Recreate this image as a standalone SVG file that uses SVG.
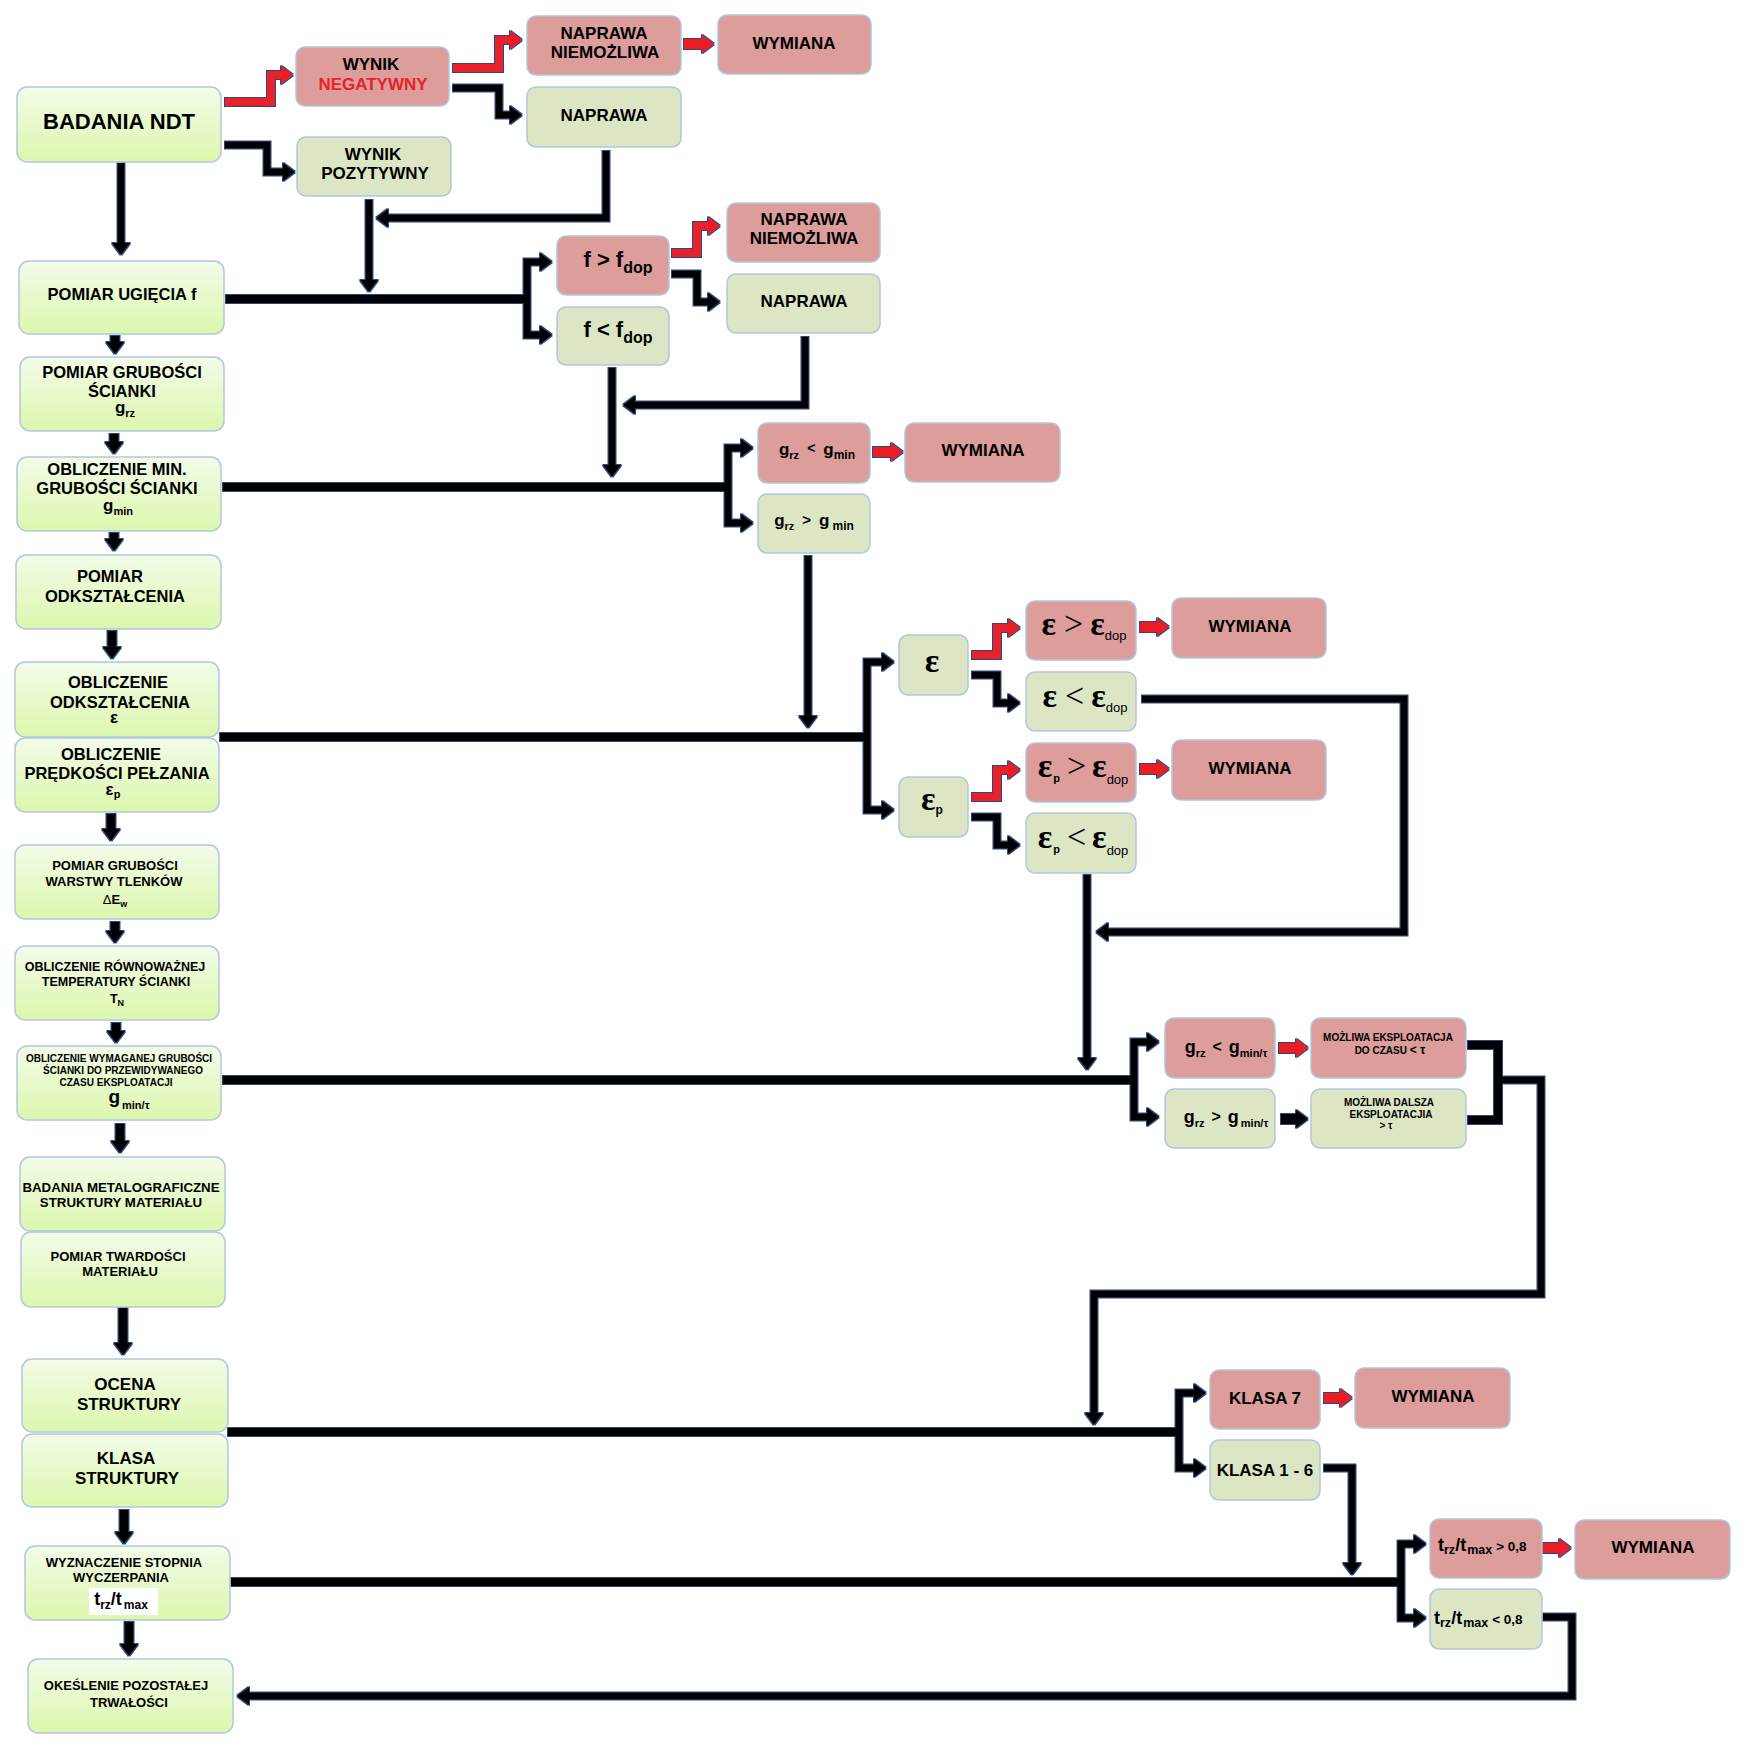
<svg xmlns="http://www.w3.org/2000/svg" width="1752" height="1757" viewBox="0 0 1752 1757">
<defs>
<linearGradient id="gG" x1="0" y1="0" x2="0" y2="1">
<stop offset="0" stop-color="#f3fce9"/>
<stop offset="1" stop-color="#dcf7ad"/>
</linearGradient>
<filter id="ol" filterUnits="userSpaceOnUse" x="0" y="0" width="1752" height="1757">
<feMorphology in="SourceAlpha" operator="dilate" radius="1" result="d"/>
<feFlood flood-color="#2c4a7a" result="c"/>
<feComposite in="c" in2="d" operator="in" result="o"/>
<feMerge><feMergeNode in="o"/><feMergeNode in="SourceGraphic"/></feMerge>
</filter>
<marker id="ah" markerUnits="userSpaceOnUse" markerWidth="12" markerHeight="18" refX="1" refY="9" orient="auto-start-reverse">
<path d="M0,0 L12,9 L0,18 Z" fill="#000"/>
</marker>
<marker id="ahr" markerUnits="userSpaceOnUse" markerWidth="12" markerHeight="18" refX="1" refY="9" orient="auto-start-reverse">
<path d="M0,0 L12,9 L0,18 Z" fill="#ec1c24"/>
</marker>
</defs>
<style>
.n{fill:url(#gG);stroke:#b3c6de;stroke-width:1.5}
.g{fill:#dce6c4;stroke:#b3c6de;stroke-width:1.5}
.r{fill:#dc9d9b;stroke:#b3c6de;stroke-width:1.5}
text{font-family:"Liberation Sans",Arial,sans-serif;font-weight:bold;fill:#000;text-anchor:middle}
.s22{font-size:22px}
.s17{font-size:17px}
.s16{font-size:16.5px}
.s13{font-size:13px}
.s12{font-size:12.5px}
.s10{font-size:10px}
.st{text-anchor:start}
.ser{font-family:"Liberation Serif","DejaVu Serif",serif;font-weight:normal}
.eb{font-weight:bold}
.sub{font-family:"Liberation Sans",Arial,sans-serif;font-weight:normal;font-size:13px}
.subb{font-family:"Liberation Sans",Arial,sans-serif;font-weight:bold;font-size:12px}
.reg{font-weight:normal}
.l{fill:none;stroke:#000;stroke-width:8}
.k{fill:none;stroke:#000;stroke-width:7;marker-end:url(#ah)}
.kb{fill:none;stroke:#000;stroke-width:7;marker-start:url(#ah);marker-end:url(#ah)}
.kd{fill:none;stroke:#000;stroke-width:9;marker-end:url(#ah)}
.kr{fill:none;stroke:#e8232b;stroke-width:8;marker-end:url(#ahr)}
.rb{fill:none;stroke:#ec1c24;stroke-width:10;marker-end:url(#ahr)}
.kk{fill:none;stroke:#000;stroke-width:10;marker-end:url(#ah)}
</style>
<rect width="1752" height="1757" fill="#fff"/>

<g id="connectors" filter="url(#ol)">
<path class="kr" d="M225,102 H271 V75 H282"/>
<path class="k" d="M225,145 H267 V172 H284"/>
<path class="kr" d="M453,68 H499 V40 H511"/>
<path class="k" d="M453,88 H499 V115 H511"/>
<path class="rb" d="M684,44 H703"/>
<path class="k" d="M606,151 V218 H387"/>
<path class="k" d="M369,200 V281"/>
<path class="k" d="M121,163 V244"/>
<path class="l" d="M226,299 H527"/>
<path class="kb" d="M541,262 H527 V335 H541"/>
<path class="kr" d="M672,253 H697 V226 H709"/>
<path class="k" d="M672,274 H697 V302 H709"/>
<path class="k" d="M805,337 V405 H634"/>
<path class="k" d="M612,368 V466"/>
<path class="l" d="M223,487 H728"/>
<path class="kb" d="M742,448 H728 V523 H742"/>
<path class="rb" d="M873,452 H892"/>
<path class="k" d="M808,556 V717"/>
<path class="l" d="M220,737 H867"/>
<path class="kb" d="M883,662 H867 V810 H883"/>
<path class="kr" d="M972,655 H997 V628 H1009"/>
<path class="k" d="M972,675 H997 V703 H1009"/>
<path class="rb" d="M1140,627 H1158"/>
<path class="kr" d="M972,797 H997 V770 H1009"/>
<path class="k" d="M972,817 H997 V845 H1009"/>
<path class="rb" d="M1140,769 H1158"/>
<path class="k" d="M1142,699 H1404 V932 H1107"/>
<path class="k" d="M1087,875 V1059"/>
<path class="l" d="M223,1080 H1134"/>
<path class="kb" d="M1148,1042 H1134 V1117 H1148"/>
<path class="rb" d="M1279,1048 H1297"/>
<path class="kk" d="M1281,1119 H1297"/>
<path class="l" d="M1468,1045 H1498 V1120 H1468"/>
<path class="k" d="M1498,1080 H1541 V1294 H1094 V1414"/>
<path class="l" d="M228,1432 H1179"/>
<path class="kb" d="M1195,1393 H1179 V1468 H1195"/>
<path class="rb" d="M1324,1398 H1341"/>
<path class="k" d="M1324,1468 H1352 V1564"/>
<path class="l" d="M231,1582 H1401"/>
<path class="kb" d="M1415,1544 H1401 V1618 H1415"/>
<path class="rb" d="M1543,1548 H1560"/>
<path class="k" d="M1543,1617 H1572 V1696 H248"/>
<path class="kd" d="M115,336 V343"/>
<path class="kd" d="M114,434 V443"/>
<path class="kd" d="M114,533 V540"/>
<path class="kd" d="M112,631 V648"/>
<path class="kd" d="M111,814 V830"/>
<path class="kd" d="M115,922 V932"/>
<path class="kd" d="M116,1023 V1032"/>
<path class="kd" d="M120,1124 V1142"/>
<path class="kd" d="M123,1308 V1344"/>
<path class="kd" d="M124,1510 V1533"/>
<path class="kd" d="M129,1622 V1645"/>
</g>

<g id="n_ndt"><rect class="n" x="17" y="87" width="204" height="75" rx="10"/><text class="s22" x="119" y="129">BADANIA NDT</text></g>
<g id="n_neg"><rect class="r" x="296" y="47" width="153" height="59" rx="9"/><text class="s17" x="371" y="70">WYNIK</text><text class="s17" x="373" y="90" style="fill:#e8212a">NEGATYWNY</text></g>
<g id="n_poz"><rect class="g" x="297" y="137" width="154" height="59" rx="9"/><text class="s17" x="373" y="160">WYNIK</text><text class="s17" x="375" y="179">POZYTYWNY</text></g>
<g id="n_nn1"><rect class="r" x="527" y="16" width="154" height="59" rx="9"/><text class="s17" x="604" y="39">NAPRAWA</text><text class="s17" x="605" y="58">NIEMOŻLIWA</text></g>
<g id="n_wym1"><rect class="r" x="718" y="15" width="153" height="59" rx="9"/><text class="s17" x="794" y="49">WYMIANA</text></g>
<g id="n_nap1"><rect class="g" x="527" y="87" width="154" height="60" rx="9"/><text class="s17" x="604" y="121">NAPRAWA</text></g>
<g id="n_ugi"><rect class="n" x="19" y="261" width="205" height="73" rx="10"/><text class="s16" x="122" y="300">POMIAR UGIĘCIA f</text></g>
<g id="n_fgt"><rect class="r" x="557" y="236" width="112" height="59" rx="9"/><text x="618" y="267" style="font-size:22px">f &gt; f<tspan dy="6" style="font-size:16px">dop</tspan></text></g>
<g id="n_flt"><rect class="g" x="557" y="307" width="112" height="58" rx="9"/><text x="618" y="337" style="font-size:22px">f &lt; f<tspan dy="6" style="font-size:16px">dop</tspan></text></g>
<g id="n_nn2"><rect class="r" x="727" y="203" width="153" height="59" rx="9"/><text class="s17" x="804" y="225">NAPRAWA</text><text class="s17" x="804" y="244">NIEMOŻLIWA</text></g>
<g id="n_nap2"><rect class="g" x="727" y="274" width="153" height="59" rx="9"/><text class="s17" x="804" y="307">NAPRAWA</text></g>
<g id="n_grub"><rect class="n" x="20" y="357" width="204" height="74" rx="10"/><text class="s16" x="122" y="378">POMIAR GRUBOŚCI</text><text class="s16" x="122" y="397">ŚCIANKI</text><text x="125" y="413" style="font-size:17px">g<tspan dy="4" style="font-size:11px">rz</tspan></text></g>
<g id="n_min"><rect class="n" x="17" y="457" width="204" height="74" rx="10"/><text class="s16" x="117" y="475">OBLICZENIE MIN.</text><text class="s16" x="117" y="494">GRUBOŚCI ŚCIANKI</text><text x="118" y="511" style="font-size:17px">g<tspan dy="4" style="font-size:11px">min</tspan></text></g>
<g id="n_gltmin"><rect class="r" x="758" y="423" width="112" height="60" rx="9"/><text x="817" y="455" style="font-size:17px">g<tspan dy="4" style="font-size:11px">rz</tspan><tspan dy="-6" dx="8" style="font-size:14px">&lt;</tspan><tspan dy="2" dx="8">g</tspan><tspan dy="4" style="font-size:12px">min</tspan></text></g>
<g id="n_wym2"><rect class="r" x="905" y="423" width="155" height="59" rx="9"/><text class="s17" x="983" y="456">WYMIANA</text></g>
<g id="n_ggtmin"><rect class="g" x="758" y="494" width="112" height="59" rx="9"/><text x="814" y="526" style="font-size:17px">g<tspan dy="4" style="font-size:11px">rz</tspan><tspan dy="-5" dx="8" style="font-size:15px">&gt;</tspan><tspan dy="1" dx="8">g</tspan><tspan dy="4" dx="3" style="font-size:12px">min</tspan></text></g>
<g id="n_pomodk"><rect class="n" x="16" y="555" width="205" height="74" rx="10"/><text class="s16" x="110" y="582">POMIAR</text><text class="s16" x="115" y="602">ODKSZTAŁCENIA</text></g>
<g id="n_oblodk"><rect class="n" x="15" y="662" width="204" height="75" rx="10"/><text class="s16" x="118" y="688">OBLICZENIE</text><text class="s16" x="120" y="708">ODKSZTAŁCENIA</text><text x="114" y="723" style="font-size:17px">ε</text></g>
<g id="n_oblpel"><rect class="n" x="15" y="738" width="204" height="74" rx="10"/><text class="s16" x="111" y="760">OBLICZENIE</text><text class="s16" x="117" y="779">PRĘDKOŚCI PEŁZANIA</text><text x="113" y="795" style="font-size:17px">ε<tspan dy="3" style="font-size:11px">p</tspan></text></g>
<g id="n_eps"><rect class="g" x="899" y="635" width="69" height="60" rx="9"/><text class="ser eb" x="932" y="672" style="font-size:34px">ε</text></g>
<g id="n_egt"><rect class="r" x="1026" y="601" width="110" height="59" rx="9"/><text class="ser" x="1084" y="635" style="font-size:34px"><tspan class="eb">ε</tspan><tspan dx="8">&gt;</tspan><tspan dx="7" class="eb">ε</tspan><tspan dy="5" class="sub">dop</tspan></text></g>
<g id="n_wym3"><rect class="r" x="1172" y="598" width="154" height="60" rx="9"/><text class="s17" x="1250" y="632">WYMIANA</text></g>
<g id="n_elt"><rect class="g" x="1026" y="672" width="110" height="59" rx="9"/><text class="ser" x="1085" y="707" style="font-size:34px"><tspan class="eb">ε</tspan><tspan dx="8">&lt;</tspan><tspan dx="7" class="eb">ε</tspan><tspan dy="5" class="sub">dop</tspan></text></g>
<g id="n_epsp"><rect class="g" x="899" y="777" width="69" height="60" rx="9"/><text class="ser eb" x="932" y="810" style="font-size:34px">ε<tspan dy="4" class="subb">p</tspan></text></g>
<g id="n_epgt"><rect class="r" x="1026" y="743" width="110" height="59" rx="9"/><text class="ser" x="1083" y="777" style="font-size:34px"><tspan class="eb">ε</tspan><tspan dy="5" dx="1" class="subb" style="font-size:11px">p</tspan><tspan dy="-5" dx="7">&gt;</tspan><tspan dx="6" class="eb">ε</tspan><tspan dy="7" class="sub">dop</tspan></text></g>
<g id="n_wym4"><rect class="r" x="1172" y="740" width="154" height="60" rx="9"/><text class="s17" x="1250" y="774">WYMIANA</text></g>
<g id="n_eplt"><rect class="g" x="1026" y="813" width="110" height="60" rx="9"/><text class="ser" x="1083" y="848" style="font-size:34px"><tspan class="eb">ε</tspan><tspan dy="5" dx="1" class="subb" style="font-size:11px">p</tspan><tspan dy="-5" dx="7">&lt;</tspan><tspan dx="6" class="eb">ε</tspan><tspan dy="7" class="sub">dop</tspan></text></g>
<g id="n_tlenki"><rect class="n" x="15" y="845" width="204" height="74" rx="10"/><text class="s13" x="115" y="870">POMIAR GRUBOŚCI</text><text class="s13" x="114" y="886">WARSTWY TLENKÓW</text><text x="115" y="904" style="font-size:13px"><tspan class="reg">Δ</tspan>E<tspan dy="3" style="font-size:9px">w</tspan></text></g>
<g id="n_rown"><rect class="n" x="15" y="946" width="204" height="74" rx="10"/><text class="s12" x="115" y="971">OBLICZENIE RÓWNOWAŻNEJ</text><text class="s12" x="116" y="986">TEMPERATURY ŚCIANKI</text><text x="117" y="1003" style="font-size:12.5px">T<tspan dy="3" style="font-size:9px">N</tspan></text></g>
<g id="n_wymag"><rect class="n" x="17" y="1046" width="204" height="74" rx="10"/><text class="s10" x="119" y="1062">OBLICZENIE WYMAGANEJ GRUBOŚCI</text><text class="s10" x="123" y="1074">ŚCIANKI DO PRZEWIDYWANEGO</text><text class="s10" x="116" y="1086">CZASU EKSPLOATACJI</text><text x="129" y="1103" style="font-size:19px">g<tspan dy="6" dx="2" style="font-size:11px">min/τ</tspan></text></g>
<g id="n_gltt"><rect class="r" x="1165" y="1018" width="110" height="60" rx="9"/><text x="1226" y="1053" style="font-size:18px">g<tspan dy="4" style="font-size:11px">rz</tspan><tspan dy="-5" dx="7" style="font-size:16px">&lt;</tspan><tspan dy="1" dx="7">g</tspan><tspan dy="4" style="font-size:11px">min/τ</tspan></text></g>
<g id="n_mozl1"><rect class="r" x="1311" y="1018" width="155" height="60" rx="9"/><text class="s10" x="1388" y="1041">MOŻLIWA EKSPLOATACJA</text><text class="s10" x="1390" y="1054">DO CZASU <tspan style="font-size:12px">&lt; τ</tspan></text></g>
<g id="n_ggtt"><rect class="g" x="1165" y="1089" width="110" height="59" rx="9"/><text x="1226" y="1123" style="font-size:18px">g<tspan dy="4" style="font-size:11px">rz</tspan><tspan dy="-5" dx="7" style="font-size:16px">&gt;</tspan><tspan dy="1" dx="7">g</tspan><tspan dy="4" dx="2" style="font-size:11px">min/τ</tspan></text></g>
<g id="n_mozl2"><rect class="g" x="1311" y="1089" width="155" height="59" rx="9"/><text class="s10" x="1389" y="1106">MOŻLIWA DALSZA</text><text class="s10" x="1391" y="1118">EKSPLOATACJIA</text><text class="s10" x="1386" y="1129">&gt; τ</text></g>
<g id="n_metal"><rect class="n" x="20" y="1157" width="205" height="74" rx="10"/><text x="121" y="1192" style="font-size:13.3px">BADANIA METALOGRAFICZNE</text><text x="121" y="1207" style="font-size:13.3px">STRUKTURY MATERIAŁU</text></g>
<g id="n_tward"><rect class="n" x="21" y="1232" width="204" height="75" rx="10"/><text class="s13" x="118" y="1261">POMIAR TWARDOŚCI</text><text class="s13" x="120" y="1276">MATERIAŁU</text></g>
<g id="n_ocena"><rect class="n" x="22" y="1359" width="206" height="73" rx="10"/><text class="s17" x="125" y="1390">OCENA</text><text class="s17" x="129" y="1410">STRUKTURY</text></g>
<g id="n_klasa"><rect class="n" x="22" y="1434" width="206" height="73" rx="10"/><text class="s17" x="126" y="1464">KLASA</text><text class="s17" x="127" y="1484">STRUKTURY</text></g>
<g id="n_k7"><rect class="r" x="1210" y="1370" width="110" height="59" rx="9"/><text class="s17" x="1265" y="1404">KLASA 7</text></g>
<g id="n_wym5"><rect class="r" x="1355" y="1368" width="155" height="60" rx="9"/><text class="s17" x="1433" y="1402">WYMIANA</text></g>
<g id="n_k16"><rect class="g" x="1210" y="1440" width="110" height="60" rx="9"/><text class="s17" x="1265" y="1476">KLASA 1 - 6</text></g>
<g id="n_wyzn"><rect class="n" x="25" y="1546" width="205" height="74" rx="10"/><text class="s13" x="124" y="1567">WYZNACZENIE STOPNIA</text><text class="s13" x="121" y="1582">WYCZERPANIA</text><rect x="89" y="1588" width="69" height="27" fill="#fff"/><text x="121" y="1605" style="font-size:18px">t<tspan dy="4" style="font-size:12px">rz</tspan><tspan dy="-4">/t</tspan><tspan dy="4" dx="2" style="font-size:12px">max</tspan></text></g>
<g id="n_tgt"><rect class="r" x="1430" y="1519" width="112" height="59" rx="9"/><text class="st" x="1438" y="1551" style="font-size:18px">t<tspan dy="3" style="font-size:12.5px">rz</tspan><tspan dy="-3">/t</tspan><tspan dy="3" dx="1" style="font-size:12.5px">max</tspan><tspan dy="-3" dx="4" style="font-size:13.5px">&gt; 0,8</tspan></text></g>
<g id="n_wym6"><rect class="r" x="1575" y="1520" width="155" height="59" rx="9"/><text class="s17" x="1653" y="1553">WYMIANA</text></g>
<g id="n_tlt"><rect class="g" x="1430" y="1589" width="112" height="60" rx="9"/><text class="st" x="1434" y="1624" style="font-size:18px">t<tspan dy="3" style="font-size:12.5px">rz</tspan><tspan dy="-3">/t</tspan><tspan dy="3" dx="1" style="font-size:12.5px">max</tspan><tspan dy="-3" dx="4" style="font-size:13.5px">&lt; 0,8</tspan></text></g>
<g id="n_okes"><rect class="n" x="28" y="1659" width="205" height="74" rx="10"/><text class="s13" x="126" y="1690">OKEŚLENIE POZOSTAŁEJ</text><text class="s13" x="129" y="1707">TRWAŁOŚCI</text></g>
</svg>
